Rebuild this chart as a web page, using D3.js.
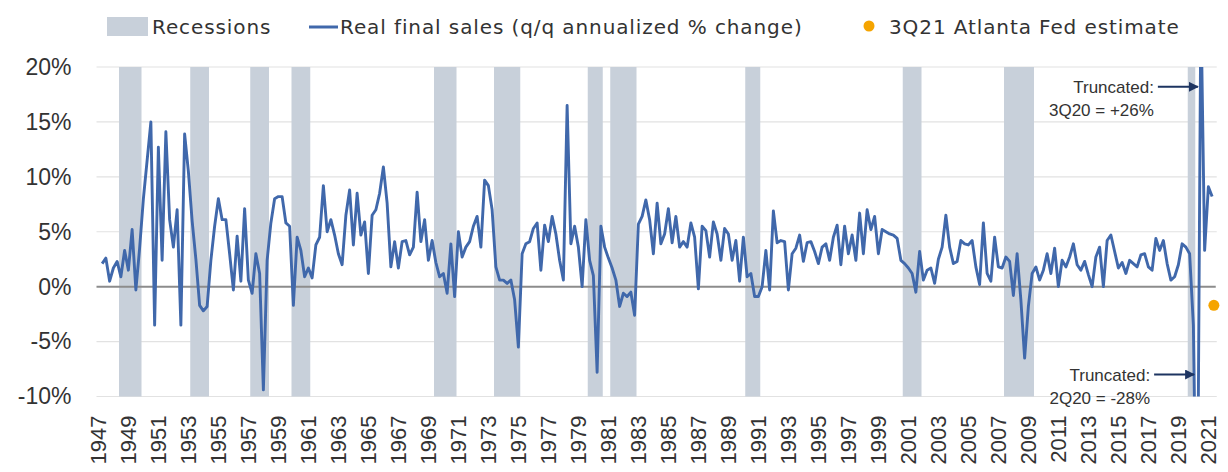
<!DOCTYPE html>
<html>
<head>
<meta charset="utf-8">
<script src="https://cdn.jsdelivr.net/npm/d3@7"></script>
<style>
  body { margin: 0; background: #fff; }
  svg { display: block; }
</style>
</head>
<body>
<div id="chart"></div>
<script>
const width = 1228,
  height = 472,
  plot = { left: 96.5, right: 1217.75, top: 67, bottom: 396.5 };

// real final sales, q/q annualized % change, 1947Q2 .. 2021Q2
const salesGrowth = [
  2.1, 2.6, 0.5,                 // 1947 Q2-Q4
  1.7, 2.3, 0.9, 3.3,            // 1948
  1.5, 5.2, -0.3, 3.5,           // 1949
  8.0, 11.5, 15.0, -3.5,         // 1950
  12.7, 2.4, 14.1, 6.1,          // 1951
  3.6, 7.0, -3.5, 13.9,          // 1952
  10.5, 6.0, 2.5, -1.7,          // 1953
  -2.2, -1.8, 2.4, 5.5,          // 1954
  8.0, 6.1, 6.1, 3.0,            // 1955
  -0.3, 4.6, 0.5, 7.1,           // 1956
  0.6, -0.6, 3.0, 1.2,           // 1957
  -9.4, 2.4, 5.8, 8.0,           // 1958
  8.2, 8.2, 5.8, 5.5,            // 1959
  -1.7, 4.5, 3.3, 0.9,           // 1960
  1.7, 0.8, 3.8, 4.5,            // 1961
  9.2, 5.0, 6.1, 4.7,            // 1962
  3.0, 2.0, 6.5, 8.8,            // 1963
  3.8, 8.5, 4.7, 5.9,            // 1964
  1.2, 6.5, 7.0, 8.5,            // 1965
  10.9, 7.6, 1.8, 4.1,           // 1966
  1.7, 4.1, 4.2, 2.9,            // 1967
  3.6, 8.6, 4.1, 6.1,            // 1968
  2.4, 4.2, 2.2, 0.9,            // 1969
  1.2, -0.6, 3.9, -0.9,          // 1970
  5.0, 2.7, 3.6, 4.1,            // 1971
  5.5, 6.4, 3.6, 9.7,            // 1972
  9.2, 7.0, 1.8, 0.6,            // 1973
  0.6, 0.3, 0.6, -1.2,           // 1974
  -5.5, 3.0, 3.9, 4.1,           // 1975
  5.3, 5.8, 1.5, 5.6,            // 1976
  4.1, 6.4, 4.8, 2.4,            // 1977
  0.6, 16.5, 3.9, 5.5,           // 1978
  3.6, 0.0, 6.1, 2.4,            // 1979
  1.0, -7.8, 5.5, 3.6,           // 1980
  2.6, 1.7, 0.6, -1.8,           // 1981
  -0.6, -0.9, -0.5, -2.6,        // 1982
  5.7, 6.4, 7.9, 6.1,            // 1983
  3.0, 7.6, 3.9, 4.8,            // 1984
  7.1, 4.0, 6.4, 3.6,            // 1985
  4.1, 3.6, 5.8, 4.5,            // 1986
  -0.2, 5.5, 5.1, 2.7,           // 1987
  5.9, 4.8, 2.4, 5.3,            // 1988
  4.8, 2.4, 4.2, 0.5,            // 1989
  4.5, 0.9, 1.2, -0.9,           // 1990
  -0.9, 0.0, 3.3, -0.3,          // 1991
  6.9, 4.0, 4.2, 4.1,            // 1992
  -0.3, 3.0, 3.5, 4.7,           // 1993
  2.3, 4.0, 4.1, 3.2,            // 1994
  2.1, 3.6, 3.9, 2.4,            // 1995
  4.5, 5.6, 2.0, 5.5,            // 1996
  3.0, 4.7, 2.4, 6.7,            // 1997
  3.0, 7.0, 5.2, 6.4,            // 1998
  3.0, 5.2, 5.0, 4.8,            // 1999
  4.7, 4.4, 2.4, 2.1,            // 2000
  1.7, 1.2, -0.5, 3.2,           // 2001
  0.6, 1.5, 1.7, 0.3,            // 2002
  2.5, 3.6, 6.5, 3.6,            // 2003
  2.1, 2.3, 4.2, 3.9,            // 2004
  3.8, 4.2, 1.8, 0.2,            // 2005
  5.8, 1.2, 0.5, 4.5,            // 2006
  1.8, 1.7, 2.7, 2.3,            // 2007
  -0.8, 3.0, -1.2, -6.5,         // 2008
  -1.8, 1.2, 1.8, 0.6,           // 2009
  1.5, 3.0, 1.2, 3.5,            // 2010
  0.0, 2.4, 1.8, 2.7,            // 2011
  3.9, 2.0, 1.5, 2.3,            // 2012
  1.1, 0.0, 2.7, 3.6,            // 2013
  0.0, 4.2, 4.7, 3.2,            // 2014
  1.7, 2.2, 1.2, 2.4,            // 2015
  2.1, 1.8, 2.9, 3.0,            // 2016
  1.8, 1.5, 4.4, 3.3,            // 2017
  4.2, 2.1, 0.6, 0.9,            // 2018
  2.0, 3.9, 3.6, 3.0,            // 2019
  -3.5, -28.0, 26.0, 3.3,        // 2020
  9.1, 8.2                       // 2021 Q1-Q2
];
const firstQuarter = '1947Q2';

// shaded recession quarters (as drawn in the picture)
const recessions = [
  ['1948Q3', '1949Q4'], ['1953Q2', '1954Q2'], ['1957Q2', '1958Q2'],
  ['1960Q1', '1961Q1'], ['1969Q3', '1970Q4'], ['1973Q3', '1975Q1'],
  ['1979Q4', '1980Q3'], ['1981Q2', '1982Q4'], ['1990Q2', '1991Q1'],
  ['2000Q4', '2001Q4'], ['2007Q3', '2009Q2'], ['2019Q4', '2020Q1']
];

const estimate = { quarter: '2021Q3', value: -1.7 };

const yTicks = [-10, -5, 0, 5, 10, 15, 20];
const xTickYears = d3.range(1947, 2022, 2);

const notes = [
  { lines: ['Truncated:', '3Q20 = +26%'], target: '2020Q3', level: 18.2 },
  { lines: ['Truncated:', '2Q20 = -28%'], target: '2020Q2', level: -8.0 }
];

// category axis: every quarter from 1947Q1 to 2021Q3
const quarters = [];
for (let yr = 1947; yr <= 2021; yr++) {
  for (let q = 1; q <= 4; q++) {
    if (yr === 2021 && q > 3) break;
    quarters.push(yr + 'Q' + q);
  }
}
const start = quarters.indexOf(firstQuarter);
const series = salesGrowth.map((v, i) => ({ q: quarters[start + i], v }));

const x = d3.scaleBand().domain(quarters).range([plot.left, plot.right]).padding(0);
const xc = q => x(q) + x.bandwidth() / 2;
const y = d3.scaleLinear().domain([-10, 20]).range([plot.bottom, plot.top]);

const blue = '#4068ab',
  barGrey = '#c8d0da',
  orange = '#f5a400',
  navy = '#1d3461',
  textCol = '#333';

const svg = d3.select('#chart').
append('svg').
attr('width', width).
attr('height', height);

svg.append('defs').append('clipPath').
attr('id', 'plotclip').
append('rect').
attr('x', plot.left).
attr('y', plot.top).
attr('width', plot.right - plot.left).
attr('height', plot.bottom - plot.top);

svg.append('defs').append('marker').
attr('id', 'arrow').
attr('viewBox', '0 0 10 10').
attr('refX', 9).
attr('refY', 5).
attr('markerWidth', 5).
attr('markerHeight', 5).
attr('orient', 'auto').
append('path').
attr('d', 'M0,0 L10,5 L0,10 z').
attr('fill', navy);

// gridlines
svg.append('g').
selectAll('line').
data(yTicks.filter(d => d !== 0)).
enter().
append('line').
attr('x1', plot.left).
attr('x2', plot.right - 1).
attr('y1', d => y(d)).
attr('y2', d => y(d)).
attr('stroke', '#e2e2e2').
attr('stroke-width', 1.2);

// recession bars
svg.append('g').
selectAll('rect').
data(recessions).
enter().
append('rect').
attr('x', d => x(d[0])).
attr('y', plot.top).
attr('width', d => x(d[1]) + x.bandwidth() - x(d[0])).
attr('height', plot.bottom - plot.top).
attr('fill', barGrey);

// zero line
svg.append('line').
attr('x1', plot.left).
attr('x2', plot.right - 2).
attr('y1', y(0)).
attr('y2', y(0)).
attr('stroke', '#8c8c8c').
attr('stroke-width', 2);

// sales line
const line = d3.line().
x(d => xc(d.q)).
y(d => y(d.v));

svg.append('path').
datum(series).
attr('clip-path', 'url(#plotclip)').
attr('d', line).
attr('fill', 'none').
attr('stroke', blue).
attr('stroke-width', 2.9).
attr('stroke-linejoin', 'round');

// Atlanta Fed estimate
svg.append('circle').
attr('cx', xc(estimate.quarter) - 2).
attr('cy', y(estimate.value)).
attr('r', 5.5).
attr('fill', orange);

// y axis
const yAxis = svg.append('g').
attr('transform', `translate(${plot.left},0)`).
call(d3.axisLeft(y).tickValues(yTicks).tickFormat(d => d + '%').tickSize(0).tickPadding(25));
yAxis.select('.domain').remove();
yAxis.selectAll('text').
attr('font-family', '"Liberation Sans", Arial, sans-serif').
attr('font-size', 23).
attr('fill', textCol);

// x axis (rotated year labels)
const xAxis = svg.append('g').
attr('transform', `translate(0,${plot.bottom})`).
call(d3.axisBottom(x).tickValues(xTickYears.map(yr => yr + 'Q1')).tickFormat(q => q.slice(0, 4)).tickSize(0));
xAxis.select('.domain').remove();
xAxis.selectAll('text').
attr('transform', 'rotate(-90)').
attr('x', -19).
attr('y', 0).
attr('dy', '0.36em').
attr('text-anchor', 'end').
attr('font-family', '"Liberation Sans", Arial, sans-serif').
attr('font-size', 22).
attr('fill', textCol);

// truncation notes
notes.forEach(n => {
  const tipX = xc(n.target) - 3,
    ay = y(n.level);
  svg.append('line').
  attr('x1', tipX - 40).
  attr('x2', tipX).
  attr('y1', ay).
  attr('y2', ay).
  attr('stroke', navy).
  attr('stroke-width', 2).
  attr('marker-end', 'url(#arrow)');
  svg.append('text').
  attr('text-anchor', 'end').
  attr('font-family', '"Liberation Sans", Arial, sans-serif').
  attr('font-size', 17).
  attr('fill', textCol).
  selectAll('tspan').
  data(n.lines).
  enter().
  append('tspan').
  attr('x', tipX - 44).
  attr('y', (d, i) => ay + 6 + i * 23).
  text(d => d);
});

// legend
const legend = svg.append('g').
attr('font-family', '"DejaVu Sans", sans-serif').
attr('font-size', 20).
attr('letter-spacing', 0.9).
attr('fill', textCol);

legend.append('rect').
attr('x', 107).
attr('y', 17).
attr('width', 41).
attr('height', 19).
attr('fill', barGrey);
legend.append('text').
attr('x', 152).
attr('y', 34).
text('Recessions');

legend.append('line').
attr('x1', 309).
attr('x2', 338).
attr('y1', 27).
attr('y2', 27).
attr('stroke', blue).
attr('stroke-width', 3);
legend.append('text').
attr('x', 340).
attr('y', 34).
text('Real final sales (q/q annualized % change)');

legend.append('circle').
attr('cx', 869).
attr('cy', 26).
attr('r', 5.5).
attr('fill', orange);
legend.append('text').
attr('x', 889).
attr('y', 34).
text('3Q21 Atlanta Fed estimate');
</script>
</body>
</html>
